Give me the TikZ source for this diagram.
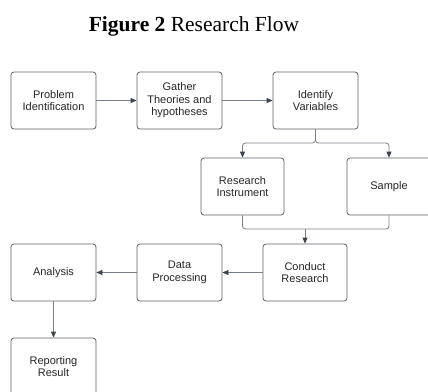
\documentclass[tikz,border=0pt]{standalone}
\usepackage{fontspec}
\setmainfont{Liberation Serif}
\newfontfamily\boxfont{Liberation Sans}
\usetikzlibrary{arrows.meta}
\definecolor{boxline}{HTML}{5A5F66}
\definecolor{conline}{HTML}{7A8088}
\definecolor{tipcol}{HTML}{3B4350}
\tikzset{
  stepbox/.style={draw=boxline, line width=0.8pt, rounded corners=3pt, minimum width=85pt, minimum height=57pt, inner sep=0pt, align=center, font=\boxfont\fontsize{11}{12.5}\selectfont, text=black!85},
  con/.style={draw=conline, line width=0.8pt},
  arr/.style={con, -{Triangle[length=6pt,width=5pt,fill=tipcol,color=tipcol]}},
}
\begin{document}
\begin{tikzpicture}[x=1pt,y=-1pt]
\useasboundingbox (0,0) rectangle (428,391);
\clip (0,0) rectangle (428,391);
\node[font=\fontsize{21.5}{24}\selectfont, anchor=base] (title) at (194,31.5) {\textbf{Figure 2} Research Flow};
\node[stepbox] (pi) at (53.5,100.5) {Problem\\Identification};
\node[stepbox] (gt) at (179.5,100.5) {Gather\\Theories and\\hypotheses};
\node[stepbox] (iv) at (315.5,100.5) {Identify\\Variables};
\node[stepbox, minimum width=83pt] (ri) at (242.5,186.5) {Research\\Instrument};
\node[stepbox, minimum width=84pt] (sa) at (389,186.5) {Sample};
\node[stepbox, minimum width=84pt] (cr) at (305,272.5) {Conduct\\Research};
\node[stepbox] (dp) at (179.5,272.5) {Data\\Processing};
\node[stepbox] (an) at (53.5,272.5) {Analysis};
\node[stepbox] (rr) at (53.5,366.5) {Reporting\\Result};
\coordinate (j1) at (315.5,143);
\coordinate (j2) at (305,229);
\draw[arr] (pi) -- (gt);
\draw[arr] (gt) -- (iv);
\draw[arr, rounded corners=3pt] (iv.south) -- (j1) -| (ri.north);
\draw[arr, rounded corners=3pt] (iv.south) -- (j1) -| (sa.north);
\draw[con, rounded corners=3pt] (ri.south) |- (j2) -| (sa.south);
\draw[arr] (j2) -- (cr.north);
\draw[arr] (cr) -- (dp);
\draw[arr] (dp) -- (an);
\draw[arr] (an) -- (rr);
\end{tikzpicture}
\end{document}
